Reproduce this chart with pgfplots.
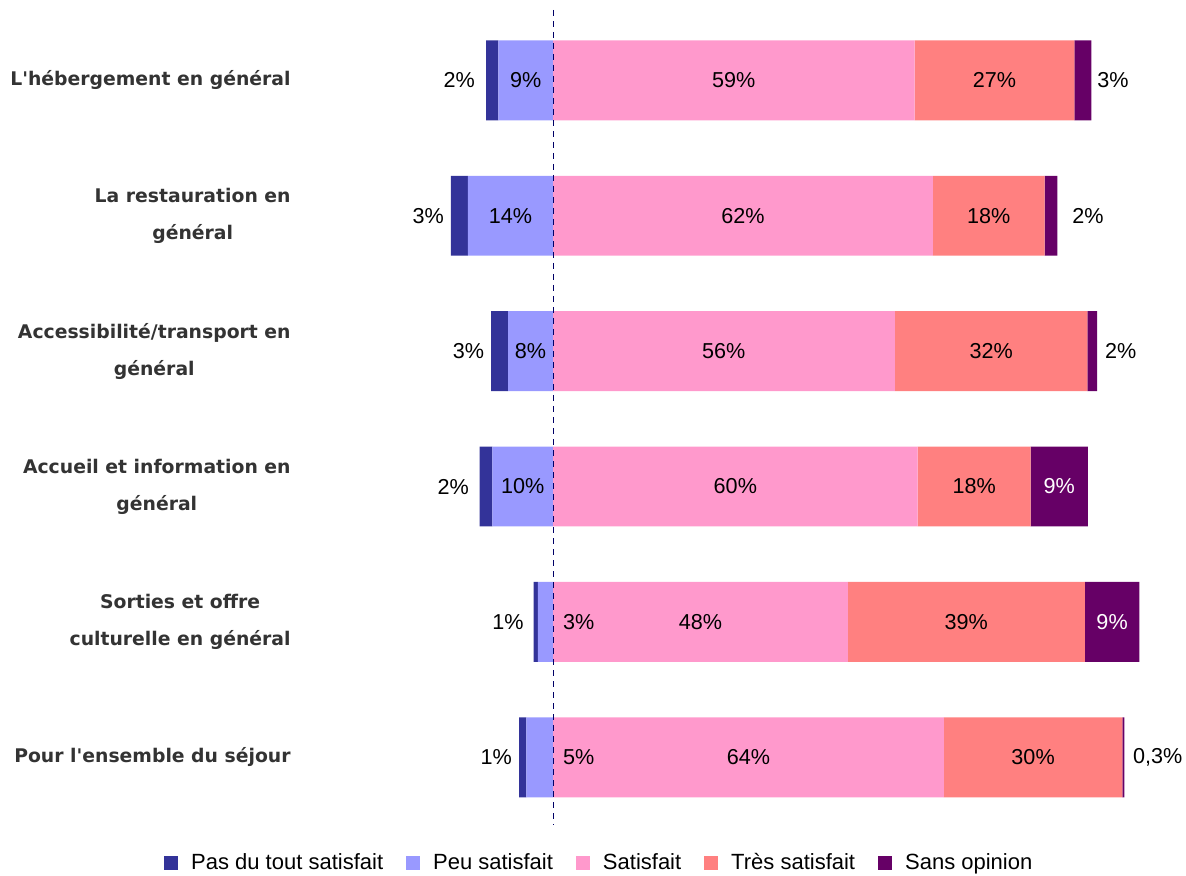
\documentclass[border=0pt]{standalone}
\usepackage{pgfplots}
\pgfplotsset{compat=1.18}
\usepackage{fontspec}
\setmainfont{Liberation Sans}
\newfontfamily\catfont{DejaVu Sans}
\definecolor{cPas}{HTML}{333399}
\definecolor{cPeu}{HTML}{9999FF}
\definecolor{cSat}{HTML}{FF99CC}
\definecolor{cTres}{HTML}{FF8080}
\definecolor{cSans}{HTML}{660066}
\definecolor{cCat}{HTML}{333333}
\definecolor{cDash}{HTML}{000066}
\pgfplotsset{
  legsq/.style={legend image code/.code={\fill[##1, draw=none] (0pt,-3.5pt) rectangle (7pt,3.5pt);}},
  common/.style={
    at={(148pt,25.5pt)}, anchor=south west,
    width=444.8pt, height=407.5pt, scale only axis,
    xmin=-42.3, xmax=104.1, ymin=-0.52, ymax=5.5, y dir=reverse,
  },
  lab/.style={only marks, mark=none, nodes near coords={\pgfplotspointmeta\%},
    point meta=explicit symbolic,
    nodes near coords style={font=\fontsize{10.8}{12}\selectfont, inner sep=0pt, #1}},
}
\begin{document}
\begin{tikzpicture}[x=1pt,y=1pt]
\useasboundingbox (0,0) rectangle (593,438);
% negative side
\begin{axis}[common,
  xbar stacked, bar width=0.59,
  axis line style={draw=none}, major tick style={draw=none},
  xtick=\empty, ytick={0,...,5},
  yticklabels={{L'hébergement en général},{La restauration en\\général},{Accessibilité/transport en\\général},{Accueil et information en\\général},{Sorties et offre\\culturelle en général},{Pour l'ensemble du séjour}},
  yticklabel style={font=\catfont\bfseries\fontsize{9.4}{18.5}\selectfont, text=cCat, align=center, inner sep=0pt, xshift=-2.5pt},
  legend style={at={(0.342,-0.047)}, anchor=center, draw=none, fill=none,
    legend columns=5, font=\fontsize{11}{12}\selectfont,
    /tikz/every odd column/.append style={column sep=4.5pt},
    /tikz/every even column/.append style={column sep=9.5pt}},
  legend cell align=left,
]
\addplot[fill=cPeu, draw=none, forget plot] coordinates {(-9.0,0) (-14.0,1) (-7.4,2) (-10.0,3) (-2.5,4) (-4.4,5)};
\addplot[fill=cPas, draw=none, forget plot] coordinates {(-2.0,0) (-2.8,1) (-2.8,2) (-2.1,3) (-0.7,4) (-1.2,5)};
\addlegendimage{legsq, fill=cPas}\addlegendentry{Pas du tout satisfait}
\addlegendimage{legsq, fill=cPeu}\addlegendentry{Peu satisfait}
\addlegendimage{legsq, fill=cSat}\addlegendentry{Satisfait}
\addlegendimage{legsq, fill=cTres}\addlegendentry{Très satisfait}
\addlegendimage{legsq, fill=cSans}\addlegendentry{Sans opinion}
\end{axis}
% positive side
\begin{axis}[common, hide axis, xbar stacked, bar width=0.59]
\addplot[fill=cSat, draw=none] coordinates {(59.5,0) (62.5,1) (56.25,2) (60.0,3) (48.5,4) (64.3,5)};
\addplot[fill=cTres, draw=none] coordinates {(26.3,0) (18.4,1) (31.7,2) (18.6,3) (39.0,4) (29.4,5)};
\addplot[fill=cSans, draw=none] coordinates {(2.8,0) (2.1,1) (1.6,2) (9.4,3) (9.0,4) (0.3,5)};
\end{axis}
% labels and reference line
\begin{axis}[common, hide axis, clip=false]
\addplot[cDash, line width=0.5pt, dash pattern=on 3pt off 2.5pt] coordinates {(0,-0.52) (0,5.5)};
\addplot[lab={anchor=center, text=black}] table[meta=l] {
x y l
-4.5 0 9
-7.0 1 14
-3.7 2 8
-5.0 3 10
29.75 0 59
31.25 1 62
28.1 2 56
30.0 3 60
24.25 4 48
32.15 5 64
72.65 0 27
71.7 1 18
72.1 2 32
69.3 3 18
68.0 4 39
79.0 5 30
};
\addplot[lab={anchor=center, text=white}] table[meta=l] {
x y l
83.3 3 9
92.0 4 9
};
\addplot[lab={anchor=east, text=black}] table[meta=l] {
x y l
-12.8 0 2
-17.9 1 3
-11.3 2 3
-13.8 3 2
-4.8 4 1
-6.7 5 1
};
\addplot[lab={anchor=west, text=black}] table[meta=l] {
x y l
89.5 0 3
85.4 1 2
90.8 2 2
95.4 5 0,3
1.6 4 3
1.6 5 5
};
\end{axis}
\end{tikzpicture}
\end{document}
